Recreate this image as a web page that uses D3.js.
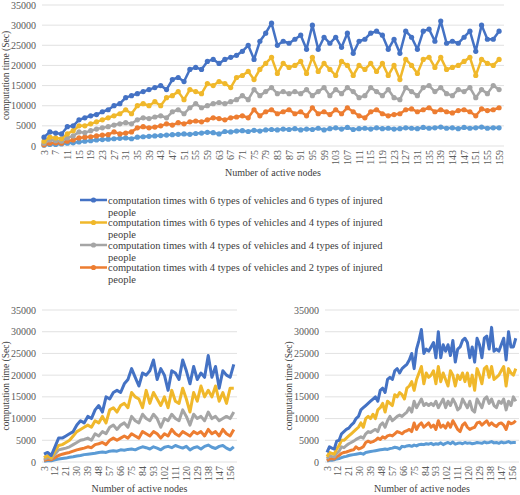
<!DOCTYPE html>
<html>
<head>
<meta charset="utf-8">
<script src="https://cdn.jsdelivr.net/npm/d3@7"></script>
<style>
  body { margin: 0; background: #fff; }
  svg, svg text { font-family: 'Liberation Serif', 'DejaVu Serif', serif; }
</style>
</head>
<body>
<div id="chart"></div>
<script>
// Node categories on the x axis
const nodes = d3.range(3, 161);

// Top panel / bottom-right panel: readings at odd node counts 3..159
const nodesOdd = d3.range(3, 160, 2);
const blueTop = [2200,3500,3200,3000,4800,5000,6500,7000,7500,7800,8500,9000,10000,10500,12000,12500,13000,13500,14000,14500,15000,14000,16500,17000,16000,19000,19500,19000,21000,21500,20500,21500,22000,22500,23500,25000,21500,26000,28000,30500,25000,26000,25500,26500,27500,24000,30000,24000,27000,25500,27000,24500,28000,23000,26000,26500,28000,28500,27500,24000,26500,23000,28500,27000,24000,28500,29000,26000,31000,25500,26000,25500,27000,28500,23500,30000,26500,26500,28500];
const yellowTop = [1200,2200,2000,1800,3000,3800,5000,5000,5500,6000,6500,7000,7500,8000,9000,8000,10000,10500,10000,11000,10000,12000,12500,13500,11500,14000,13500,13000,15500,15000,16000,15500,14500,17000,17500,18500,16500,19000,20500,22000,18000,20500,19500,20000,21000,18000,22000,18500,20500,19000,17500,21000,20000,17500,20000,19000,20500,18500,20500,17500,20000,16500,21500,20000,18000,21500,22000,19500,22000,19000,19500,20000,21000,22000,17500,21500,20500,20000,21500];
const grayTop = [700,1500,1300,1200,2000,2500,3500,3300,3800,4200,4500,4800,5200,5500,5800,5500,6500,7000,6800,7200,7500,7000,8500,9000,8000,9500,10500,9500,10000,10500,10800,10500,11000,11500,12500,11500,14000,12500,13500,14500,13000,13500,13000,13500,13000,14000,12500,13500,14500,12500,14000,13000,14500,13500,12000,12500,14500,13500,12500,14000,12000,11500,14500,13500,12500,14500,15000,13500,14500,13000,12500,14000,13500,14500,12000,14000,13000,15000,14000];
const orangeTop = [300,700,800,700,1200,1500,2000,2200,2300,2500,2700,2800,3500,3000,3200,3500,4500,4800,4500,4700,5000,5500,5200,5800,5500,6000,6200,6000,6500,7000,6800,6500,7000,7200,7500,7000,9000,7500,8500,9000,8000,8500,9000,8000,8500,7500,9500,8000,8500,7800,9000,8000,9500,8500,7500,7000,8500,9000,8000,7500,7800,8000,9000,9200,8500,9000,9500,8500,9000,8500,8200,8800,9000,8500,7500,9200,8800,9000,9500];
const lightTop = [200,400,400,500,700,800,1000,1200,1300,1500,1600,1700,1800,1900,2000,1800,2200,2300,2400,2500,2600,2700,2800,2900,3000,2900,3100,3200,3400,3300,3000,3600,3500,3700,3800,3600,3900,3700,4000,4100,4000,4200,4100,4300,4000,4200,4100,4400,4000,4300,4500,4200,4600,4100,4300,4400,4200,4500,4300,4400,4200,4300,4500,4400,4300,4600,4400,4500,4700,4400,4500,4300,4600,4400,4500,4700,4400,4500,4500];

// Bottom-left panel: readings every 3 nodes 3..159
const nodesStep3 = d3.range(3, 160, 3);
const blueLeft = [1800,2200,1500,3500,5500,5500,6000,6500,7000,8500,9500,9000,10500,10000,12000,13000,11500,15000,14500,16000,16500,16000,18000,19000,21500,19500,17500,20500,20000,21000,23500,19000,21500,20000,16500,21000,20500,19000,23500,21000,18000,22000,19000,20500,19500,24500,19500,22000,17000,21000,20000,19500,22500];
const yellowLeft = [1000,1500,900,2500,3800,4000,4500,5000,6000,7000,7500,8000,8500,8000,9500,9000,10500,9000,12000,12500,11500,13000,13500,12500,16000,15000,14500,12500,16500,13500,16000,14500,13000,15000,12500,16500,14000,13500,17000,14500,11500,16000,14000,17500,15000,16500,15000,17500,14000,16000,13500,17000,17000];
const grayLeft = [600,1000,800,1800,2800,3000,3200,3500,4000,4500,5000,5200,5500,5000,6500,6000,7000,6500,8000,8500,7500,8500,9000,8000,10500,9500,9000,11000,10000,9500,11000,10000,8000,10000,9500,11000,10000,9500,12000,10500,8500,11000,10000,10500,9500,11500,10000,10500,9500,10000,10500,10000,11500];
const orangeLeft = [300,600,500,1000,1500,1800,2000,2200,2500,2800,3000,3200,3500,3300,4000,4200,4500,4000,5000,5500,5000,5500,6000,5500,6500,6000,5500,7000,6500,6000,7000,6500,5500,6500,6000,7500,6500,6000,7000,6500,6000,7000,6500,7000,6000,7500,6500,7000,6000,7500,6500,6000,7500];
const lightLeft = [150,300,300,500,700,800,900,1100,1200,1400,1500,1700,1800,1900,2000,2200,2300,2200,2500,2600,2500,2800,2700,2900,3000,2800,3200,3500,3300,3000,3500,3200,2800,3400,3600,3300,3800,3500,3200,3600,2800,3300,3500,3000,3600,3900,3400,3100,3600,3800,3200,2800,3500];

const yTicks = [0, 5000, 10000, 15000, 20000, 25000, 30000, 35000];
const seriesNames = [
    "computation times with 6 types of vehicles and 6 types of injured people",
    "computation times with 6 types of vehicles and 4 types of injured people",
    "computation times with 4 types of vehicles and 4 types of injured people",
    "computation times with 4 types of vehicles and 2 types of injured people",
];
const colors = ["#4472C4", "#F0B82B", "#A5A5A5", "#ED7D31", "#5B9BD5"];

const FONT = "'Liberation Serif', 'DejaVu Serif', serif";
const width = 520;
const height = 495;

const svg = d3.select("#chart").append("svg")
    .attr("width", width)
    .attr("height", height)
    .attr("font-family", FONT);

/**
 * Draw one line panel
 */
const drawPanel = ({ x0, x1, y0, y1, xs, series, tickEvery, markers, lineWidth }) => {
    const x = d3.scalePoint().domain(nodes).range([x0 + 2, x1 - 2]);
    const y = d3.scaleLinear().domain([0, 35000]).range([y1, y0]);
    const g = svg.append("g").attr("font-family", FONT);

    // gridlines
    g.selectAll("line.grid").data(yTicks).join("line")
        .attr("x1", x0).attr("x2", x1)
        .attr("y1", (d) => y(d)).attr("y2", (d) => y(d))
        .attr("stroke", "#d9d9d9").attr("stroke-width", 0.8);

    // y labels
    g.selectAll("text.yl").data(yTicks).join("text")
        .attr("x", x0 - 6).attr("y", (d) => y(d) + 3.5)
        .attr("text-anchor", "end").attr("font-size", 10).attr("fill", "#595959")
        .text((d) => d);

    g.append("text")
        .attr("transform", `translate(${x0 - 33},${(y0 + y1) / 2}) rotate(-90)`)
        .attr("text-anchor", "middle").attr("font-size", 9.5).attr("fill", "#404040")
        .text("computation time (Sec)");

    // x tick labels
    const tickNodes = nodes.filter((d) => (d - 3) % tickEvery === 0);
    g.selectAll("text.xl").data(tickNodes).join("text")
        .attr("transform", (d) => `translate(${x(d) + 3.5},${y1 + 4}) rotate(-90)`)
        .attr("text-anchor", "end").attr("font-size", 10).attr("fill", "#595959")
        .text((d) => d);

    g.append("text")
        .attr("x", (x0 + x1) / 2).attr("y", y1 + 30)
        .attr("text-anchor", "middle").attr("font-size", 10).attr("fill", "#404040")
        .text("Number of active nodes");

    const line = d3.line().x((d) => x(d[0])).y((d) => y(d[1]));

    // draw last series first so dark blue is on top
    series.map((vals, i) => ({ vals, i })).reverse().forEach(({ vals, i }) => {
        const pts = vals.map((v, k) => [xs[k], v]);
        g.append("path").datum(pts)
            .attr("d", line).attr("fill", "none")
            .attr("stroke", colors[i]).attr("stroke-width", lineWidth)
            .attr("stroke-linejoin", "round");
        if (markers) {
            g.append("g").selectAll("circle").data(pts).join("circle")
                .attr("cx", (d) => x(d[0])).attr("cy", (d) => y(d[1]))
                .attr("r", 2.6).attr("fill", colors[i]);
        }
    });
};

const topSeries = [blueTop, yellowTop, grayTop, orangeTop, lightTop];

drawPanel({ x0: 42, x1: 504, y0: 5, y1: 146, xs: nodesOdd, series: topSeries, tickEvery: 4, markers: true, lineWidth: 2.5 });
drawPanel({ x0: 42, x1: 237, y0: 310, y1: 462, xs: nodesStep3,
    series: [blueLeft, yellowLeft, grayLeft, orangeLeft, lightLeft], tickEvery: 9, markers: false, lineWidth: 3 });
drawPanel({ x0: 325, x1: 519, y0: 310, y1: 462, xs: nodesOdd, series: topSeries, tickEvery: 9, markers: false, lineWidth: 3 });

// legend
const legend = svg.append("g").attr("font-size", 10.5).attr("fill", "#404040").attr("font-family", FONT);
seriesNames.forEach((name, i) => {
    const ly = 200 + i * 22.5;
    legend.append("line").attr("x1", 80).attr("x2", 107).attr("y1", ly).attr("y2", ly)
        .attr("stroke", colors[i]).attr("stroke-width", 2.5);
    legend.append("circle").attr("cx", 93.5).attr("cy", ly).attr("r", 2.6).attr("fill", colors[i]);
    const cut = name.lastIndexOf(" ");
    legend.append("text").attr("x", 108).attr("y", ly + 3.5).text(name.slice(0, cut));
    legend.append("text").attr("x", 108).attr("y", ly + 15.5).text(name.slice(cut + 1));
});
</script>
</body>
</html>
